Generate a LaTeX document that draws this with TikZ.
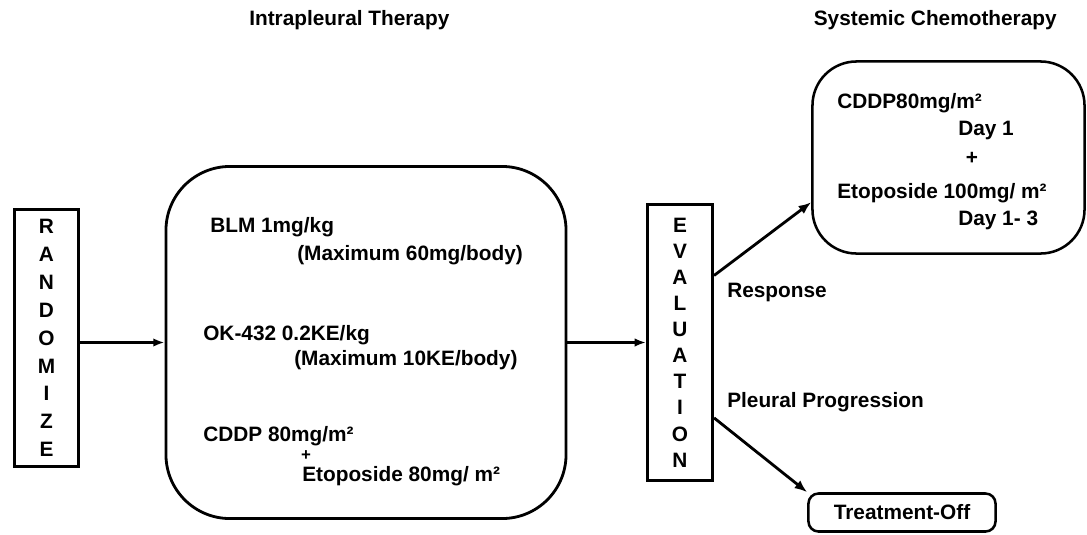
\documentclass[tikz,border=0pt]{standalone}
\usepackage{fontspec}
\setmainfont{Liberation Sans}
\usetikzlibrary{arrows.meta, positioning, calc}

\begin{document}
\begin{tikzpicture}[
    x=0.025cm, y=-0.025cm,
    txt/.style={anchor=base west, inner sep=0pt, font=\bfseries\fontsize{14.8}{17.8}\selectfont},
    letters/.style={draw, line width=2.2pt, align=center, inner sep=0pt, minimum width=1.6cm},
    bigbox/.style={draw, line width=2pt, minimum width=10cm, minimum height=8.8cm, rounded corners=1.6cm},
    chemobox/.style={draw, line width=1.8pt, minimum width=6.8cm, minimum height=4.8cm, rounded corners=1.1cm},
    offbox/.style={draw, line width=1.8pt, minimum width=4.675cm, minimum height=0.95cm, rounded corners=0.25cm, font=\bfseries\fontsize{14.8}{17.8}\selectfont},
    arr/.style={-{Latex[length=8pt,width=6pt]}, line width=1.6pt},
    darr/.style={-{Latex[length=9pt,width=7pt]}, line width=2pt},
]
\useasboundingbox (0,0) rectangle (1087,534);

% titles
\node[txt] (ttlpleura) at (249,25) {Intrapleural Therapy};
\node[txt, anchor=base east] (ttlchemo) at (1057,25) {Systemic Chemotherapy};

% vertical boxes
\node[letters, minimum height=6.425cm, font=\bfseries\fontsize{14.8}{19.85}\selectfont] (rand) at (46.5,338)
    {R\\A\\N\\D\\O\\M\\I\\Z\\E};
\node[letters, minimum width=1.625cm, minimum height=6.9cm, font=\bfseries\fontsize{14.8}{18.57}\selectfont] (eval) at (680,342.5)
    {E\\V\\A\\L\\U\\A\\T\\I\\O\\N};

% intrapleural arms
\node[bigbox] (main) at (366,342.5) {};
\node[txt] (blm) at (210,232) {BLM 1mg/kg};
\node[txt] (blmmax) at (297,260) {(Maximum 60mg/body)};
\node[txt] (ok) at (203,340) {OK-432 0.2KE/kg};
\node[txt] (okmax) at (294,365) {(Maximum 10KE/body)};
\node[txt] (cddp) at (203,441) {CDDP 80mg/m²};
\node[txt, anchor=center, font=\bfseries\fontsize{12}{14}\selectfont] (plus) at (306,456) {+};
\node[txt] (etop) at (302,481) {Etoposide 80mg/ m²};

% systemic chemotherapy
\node[chemobox] (chemo) at (948.5,157.5) {};
\node[txt] (chcddp) at (837,108) {CDDP80mg/m²};
\node[txt] (chday) at (958,135) {Day 1};
\node[txt, anchor=center] (chplus) at (972,158) {+};
\node[txt] (chetop) at (837,198) {Etoposide 100mg/ m²};
\node[txt] (chdays) at (958,225) {Day 1- 3};

\node[offbox] (off) at (902,512.5) {Treatment-Off};

% outcome labels
\node[txt] (resp) at (727,297) {Response};
\node[txt] (prog) at (727,407) {Pleural Progression};

% connectors
\draw[arr] (rand.east |- main.west) -- (main.west);
\draw[arr] (main.east) -- (main.east -| eval.west);
\draw[darr] ($(eval.north east)!0.26!(eval.south east)$) -- ($(chemo.north west)!0.73!(chemo.south west)$);
\draw[darr] ($(eval.north east)!0.77!(eval.south east)$) -- (off.north west);

\end{tikzpicture}
\end{document}
